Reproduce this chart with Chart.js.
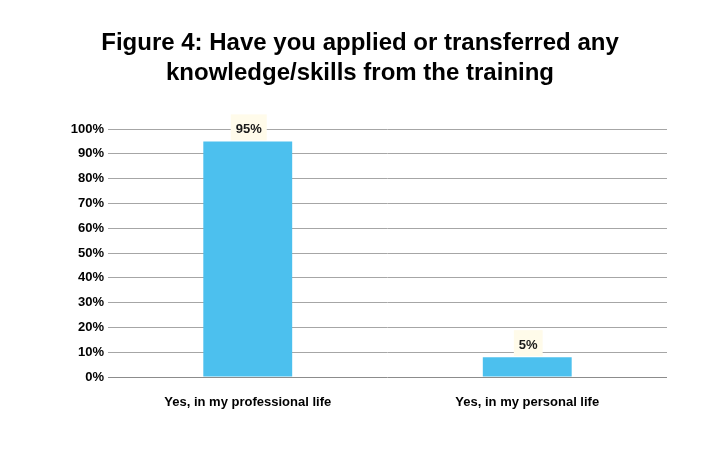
<!DOCTYPE html>
<html>
<head>
<meta charset="utf-8">
<script src="https://cdn.jsdelivr.net/npm/chart.js@4"></script>
<style>
  html, body { margin: 0; padding: 0; background: #fff; }
  #wrap { width: 720px; height: 450px; }
</style>
</head>
<body>
<div id="wrap"><canvas id="grafica"></canvas></div>
<script>
// datos
let categorias = ["Yes, in my professional life", "Yes, in my personal life"];
let valores = [95, 8];            // altura de barra tal como aparece
let etiquetas = ["95%", "5%"];    // texto de las etiquetas
let marcasY = [0, 10, 20, 30, 40, 50, 60, 70, 80, 90, 100];

let fuente = "'Liberation Sans', Arial, sans-serif";

// etiquetas con fondo crema encima de cada barra
let etiquetasPlugin = {
    id: 'etiquetas',
    afterDatasetsDraw(chart) {
        let ctx = chart.ctx;
        let meta = chart.getDatasetMeta(0);
        ctx.save();
        ctx.font = "bold 13px " + fuente;
        ctx.textAlign = 'center';
        ctx.textBaseline = 'middle';
        meta.data.forEach(function (bar, i) {
            let w = ctx.measureText(etiquetas[i]).width + 10;
            ctx.fillStyle = '#fffbea';
            ctx.fillRect(bar.x - w / 2 + 1, bar.y - 27, w, 26);
            ctx.fillStyle = '#1a1a1a';
            ctx.fillText(etiquetas[i], bar.x + 1, bar.y - 12);
        });
        ctx.restore();
    }
};

new Chart("grafica", {
    type: 'bar',
    data: {
        labels: categorias,
        datasets: [{
            data: valores,
            backgroundColor: '#4cc0ee',
            borderWidth: 0,
            barPercentage: 0.318,
            categoryPercentage: 1
        }]
    },
    options: {
        responsive: true,
        maintainAspectRatio: false,
        animation: false,
        layout: { padding: { left: 53, right: 53, top: 0, bottom: 30 } },
        plugins: {
            legend: { display: false },
            tooltip: { enabled: false },
            title: {
                display: true,
                text: ["Figure 4: Have you applied or transferred any", "knowledge/skills from the training"],
                color: '#000',
                font: { family: fuente, size: 24, weight: 'bold', lineHeight: 1.25 },
                padding: { top: 28, bottom: 41 }
            }
        },
        scales: {
            x: {
                grid: { display: false },
                border: { display: false },
                ticks: {
                    color: '#000',
                    padding: 10,
                    maxRotation: 0,
                    font: { family: fuente, size: 13, weight: 'bold' }
                },
                afterFit(s) { s.height = 43; }
            },
            y: {
                min: 0,
                max: 100,
                afterBuildTicks(s) { s.ticks = marcasY.map(v => ({ value: v })); },
                grid: {
                    color: (c) => c.tick && c.tick.value === 0 ? '#8c8c8c' : '#a6a6a6',
                    lineWidth: 1,
                    drawTicks: false
                },
                border: { display: false },
                ticks: {
                    color: '#000',
                    padding: 4,
                    font: { family: fuente, size: 13, weight: 'bold' },
                    callback: (v) => v + '%'
                },
                afterFit(s) { s.width = 55; }
            }
        }
    },
    plugins: [etiquetasPlugin]
});
</script>
</body>
</html>
